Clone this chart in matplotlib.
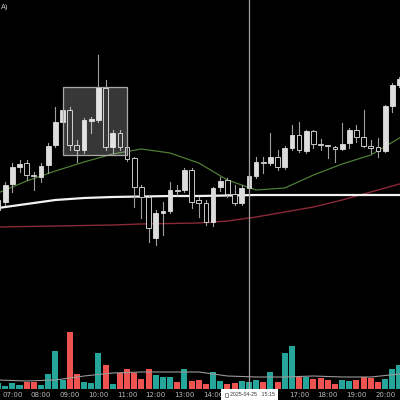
import numpy as np
import matplotlib.pyplot as plt
import matplotlib.patches as mpatches
import matplotlib.transforms as mtrans

# =============================================================================
# Data: 15-min bars from 06:30 to 20:30
# =============================================================================

opens = [90, 98, 116, 133, 137, 125, 123, 135, 155, 178, 190, 155, 150, 179,
         180, 212, 153, 167, 153, 142, 113, 103, 62, 87, 89, 110, 110, 130,
         100, 97, 78, 113, 120, 106, 97, 112, 124, 138, 137, 143, 133, 152,
         165, 149, 169, 156, 154.5, 153, 151, 157, 170, 163, 154, 153, 149,
         194, 215]
highs = [102, 118, 137, 140, 140, 128, 137, 157, 193, 193, 193, 160, 182, 183,
         245, 220, 170, 170, 155, 143, 115, 105, 90, 98, 118, 115, 132, 132,
         103, 100, 113, 123, 122, 115, 115, 128, 143, 143, 167, 150, 154, 175,
         178, 170, 170, 161, 155, 154, 177, 172, 175, 190, 160, 162, 195,
         217, 223]
lows = [88, 95, 108, 128, 120, 110, 118, 127, 153, 176, 150, 138, 147, 167,
        178, 150, 147, 150, 139, 93, 82, 58, 55, 65, 87, 105, 108, 92,
        83, 75, 74, 109, 103, 95, 95, 110, 122, 127, 135, 130, 131, 150,
        148, 147, 152, 150, 142, 138, 150, 152, 158, 153, 147, 143, 148,
        188, 213]
closes = [100, 115, 133, 136, 125, 124, 134, 154, 178, 190, 155, 150, 180, 181,
          213, 153, 167, 153, 141, 113, 103, 72, 87, 89, 110, 109, 130, 98,
          97, 78, 112, 119, 106, 97, 112, 124, 138, 137, 143, 133, 152, 165,
          150, 169, 156, 155, 154, 151, 156, 170, 163, 154, 152, 149, 194,
          215, 221]
volumes = [600, 300, 600, 400, 700, 700, 400, 1500, 3800, 900, 5700, 1500,
           700, 600, 3600, 2400, 500, 1600, 2000, 1600, 1000, 2000, 1400, 1200,
           1200, 700, 2000, 800, 900, 500, 1700, 800, 500, 600, 800, 700, 900,
           700, 1700, 700, 3600, 4300, 1200, 1200, 1000, 1100, 900, 500, 900,
           800, 900, 1200, 1100, 700, 1000, 2000, 2400]

# moving averages, read every 4 bars (on the half hour)
ma_idx = [0, 4, 8, 12, 16, 20, 24, 28, 32, 36, 40, 44, 48, 52, 56]
ma_fast = [107, 119, 129, 138, 146, 151, 147, 137, 120, 110, 112, 125, 136,
           145, 162]
ma_mid = [92, 96, 100, 102, 103, 103.5, 104, 104, 104.5, 105, 105, 105, 105,
          105, 105]
ma_slow = [73, 73.5, 74, 74.5, 75, 76, 76.5, 77, 79, 83, 88, 93, 100, 108, 116]
vol_ma = [900, 800, 900, 1300, 1600, 1700, 1700, 1700, 1300, 1200, 1200, 1300,
          1200, 1200, 1500]

# 15:00 and 16:00 sit under the crosshair label
hour_labels = ['07:00', '08:00', '09:00', '10:00', '11:00', '12:00', '13:00',
               '14:00', '17:00', '18:00', '19:00', '20:00']
hour_bars = [2, 6, 10, 14, 18, 22, 26, 30, 42, 46, 50, 54]
cross_label = '2025-04-25   15:15'
cross_bar = 35
box_bars = (9, 18)
box_prices = (145, 213)

up_col = '#dcdcdc'
edge_col = '#c8c8c8'
teal = '#26a69a'
red = '#ef5350'

# =============================================================================
# Figure
# =============================================================================

fig = plt.figure(figsize=(4, 4), dpi=100, facecolor='black')
ax = fig.add_axes([0, 0, 1, 1])
axv = fig.add_axes([0, 11 / 400, 1, 80 / 400])
for a in (ax, axv):
    a.set_facecolor('none')
    a.set_xlim(0.28, 56.07)
    a.axis('off')
ax.set_ylim(-100, 300)
axv.set_ylim(0, 8000)
ax.set_zorder(2)

n = len(opens)
idx = np.arange(n)

# volume
vcols = [teal if c >= o else red for o, c in zip(opens, closes)]
axv.bar(idx, volumes, width=0.84, color=vcols, zorder=1)
axv.plot(ma_idx, vol_ma, color='#9a9a9a', lw=0.8, zorder=2)

# moving averages
ax.plot(ma_idx, ma_slow, color='#8a2a36', lw=1.0, zorder=1)
ax.plot(ma_idx, ma_mid, color='#f2f2f2', lw=1.6, zorder=1)
ax.plot(ma_idx, ma_fast, color='#4e7d34', lw=0.9, zorder=1)

# candles
w = 0.66
for i in range(n):
    o, h, l, c = opens[i], highs[i], lows[i], closes[i]
    ax.plot([i, i], [l, h], color='#a0a0a0', lw=0.8, zorder=3)
    lo = min(o, c)
    hgt = max(abs(c - o), 1.0)
    if c > o:
        rect = mpatches.Rectangle((i - w / 2, lo), w, hgt, facecolor=up_col,
                                  edgecolor=up_col, lw=0.6, zorder=4)
    else:
        rect = mpatches.Rectangle((i - w / 2, lo), w, hgt, facecolor='black',
                                  edgecolor=edge_col, lw=0.7, zorder=4)
    ax.add_patch(rect)

# highlighted box
ax.add_patch(mpatches.Rectangle((box_bars[0], box_prices[0]),
                                box_bars[1] - box_bars[0],
                                box_prices[1] - box_prices[0],
                                facecolor='#ffffff', alpha=0.22,
                                edgecolor='none', zorder=5))
ax.add_patch(mpatches.Rectangle((box_bars[0], box_prices[0]),
                                box_bars[1] - box_bars[0],
                                box_prices[1] - box_prices[0],
                                facecolor='none', edgecolor='#a8a8a8',
                                lw=0.9, zorder=5))

# crosshair
ax.axvline(cross_bar, ymin=11 / 400, ymax=1, color='#a0a0a0', lw=0.9,
           zorder=6)

# time axis labels
trans = mtrans.blended_transform_factory(ax.transData, fig.transFigure)
for b, lab in zip(hour_bars, hour_labels):
    ax.text(b, 5 / 400, lab, transform=trans, color='#b8b8b8',
            fontsize=5, ha='center', va='center', zorder=6)

# crosshair time label (white tag at the bottom)
ax.add_patch(mpatches.Rectangle((cross_bar - 3.9, 0), 7.9, 11 / 400,
                                transform=trans, facecolor='white',
                                edgecolor='none', zorder=7, clip_on=False))
ax.add_patch(mpatches.Rectangle((cross_bar - 3.35, 3 / 400), 0.5, 4.5 / 400,
                                transform=trans, facecolor='none',
                                edgecolor='#666666', lw=0.5, zorder=8,
                                clip_on=False))
ax.text(cross_bar - 2.6, 5.5 / 400, cross_label, transform=trans,
        color='#333333', fontsize=3.8, family='Liberation Sans', ha='left',
        va='center', zorder=8, clip_on=False)

fig.text(0.002, 0.982, 'A)', color='#cccccc', fontsize=5, ha='left',
         va='center')

plt.savefig('out.png', dpi=100, facecolor='black')
